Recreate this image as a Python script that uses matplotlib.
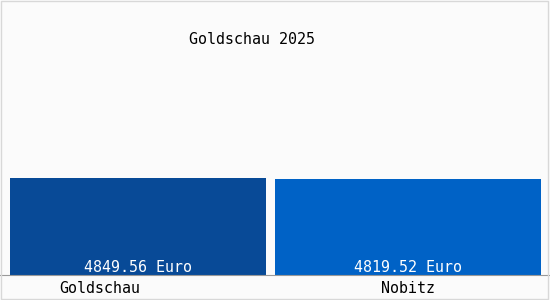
import matplotlib.pyplot as plt
from matplotlib.patches import Rectangle
from matplotlib.transforms import ScaledTranslation

title = 'Goldschau 2025'
places = ['Goldschau', 'Nobitz']
incomes = [4849.56, 4819.52]
colors = ['#084a97', '#0062c6']

plt.rcParams['font.family'] = 'DejaVu Sans Mono'

fig = plt.figure(figsize=(5.5, 3), dpi=100, facecolor='#fbfbfb')
ax = fig.add_axes([0, 25 / 300, 1, 275 / 300])
ax.set_facecolor('#fbfbfb')

widths = [0.948, 0.985]
xs = range(len(places))
ax.bar(xs, incomes, width=widths, color=colors)

ax.set_xlim(-0.511, 1.526)
ax.set_ylim(0, max(incomes) * 2.835)

for x, v in zip(xs, incomes):
    ax.text(x, 0, f'{v:.2f} Euro', ha='center', va='bottom', color='white', fontsize=10.8)

ax.set_xticks(list(xs))
ax.set_xticklabels(places, fontsize=10.8)
ax.tick_params(axis='x', length=0, pad=4)
lbl = ax.get_xticklabels()[0]
lbl.set_transform(lbl.get_transform() + ScaledTranslation(-0.38, 0, fig.dpi_scale_trans))
ax.set_yticks([])
for s in ['top', 'left', 'right']:
    ax.spines[s].set_visible(False)
ax.spines['bottom'].set_color('#999999')

ax.text(0.458, 0.858, title, transform=ax.transAxes, ha='center', va='center', fontsize=10.8)

# thin border round the picture
fig.add_artist(Rectangle((0.001, 0.004), 0.996, 0.994, fill=False, edgecolor='#d8d8d8', lw=1,
                         transform=fig.transFigure))

fig.savefig('out.png', dpi=100, facecolor=fig.get_facecolor())
